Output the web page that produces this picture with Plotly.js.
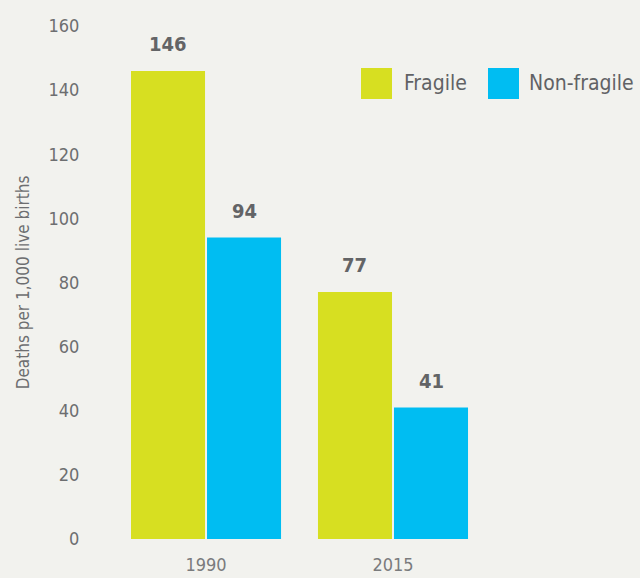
<!DOCTYPE html>
<html><head><meta charset="utf-8">
<script src="https://cdn.plot.ly/plotly-3.0.1.min.js"></script>
<style>html,body{margin:0;padding:0;background:#f2f2ee;}#chart{width:640px;height:578px;}</style>
</head><body><div id="chart"></div>
<script>
var categories = ['1990', '2015'];
var seriesNames = ['Fragile', 'Non-fragile'];
var fragile = [146, 77];
var nonFragile = [94, 41];
var yTicks = [0, 20, 40, 60, 80, 100, 120, 140, 160];

var colors = ['#d7df21', '#00bdf2'];
var FONT = '"DejaVu Sans Condensed", "Liberation Sans Narrow", sans-serif';
var series = [fragile, nonFragile];

var bargap = 0.187, bargroupgap = 0.026;
var slot = (1 - bargap) / series.length;

var traces = series.map(function (vals, i) {
  return {
    type: 'bar', x: categories.map(function (c, k) { return k; }), y: vals, name: seriesNames[i],
    marker: {color: colors[i]}, showlegend: false, hoverinfo: 'x+y'
  };
});

var annotations = [];
series.forEach(function (vals, i) {
  var off = (i - (series.length - 1) / 2) * slot;
  vals.forEach(function (v, k) {
    annotations.push({
      x: k + off, y: v, xref: 'x', yref: 'y', text: '<b>' + v + '</b>', showarrow: false,
      yanchor: 'bottom', yshift: 13, font: {family: FONT, size: 20, color: '#636466'}
    });
  });
});

// custom legend
var shapes = [];
var legX = [361, 488], legTxt = [402, 527];
seriesNames.forEach(function (n, i) {
  shapes.push({type: 'rect', xref: 'paper', yref: 'paper', x0: (legX[i] - 100) / 540, x1: (legX[i] + 31 - 100) / 540,
    y0: (539 - 99) / 513, y1: (539 - 68) / 513, fillcolor: colors[i], line: {width: 0}});
  annotations.push({xref: 'paper', yref: 'paper', x: (legTxt[i] - 100) / 540, y: (539 - 83) / 513,
    xanchor: 'left', yanchor: 'middle', text: n, showarrow: false,
    font: {family: FONT, size: 21, color: '#616265'}});
});

var layout = {
  width: 640, height: 578,
  paper_bgcolor: '#f2f2ee', plot_bgcolor: '#f2f2ee',
  margin: {l: 100, r: 0, t: 26, b: 39},
  barmode: 'group', bargap: bargap, bargroupgap: bargroupgap,
  font: {family: FONT, color: '#6d6e70'},
  xaxis: {range: [-0.567, 2.321], tickvals: [0, 1], ticktext: categories, showgrid: false, zeroline: false,
    showline: false, ticks: 'outside', ticklen: 9, tickcolor: 'rgba(0,0,0,0)',
    tickfont: {family: FONT, size: 18, color: '#7a7b7d'}},
  yaxis: {range: [0, 160], tickvals: yTicks, showgrid: false, zeroline: false, showline: false,
    ticks: 'outside', ticklen: 16, tickcolor: 'rgba(0,0,0,0)',
    tickfont: {family: FONT, size: 18, color: '#6d6e70'},
    title: {text: 'Deaths per 1,000 live births', font: {family: FONT, size: 17, color: '#6d6e70'}, standoff: 14}},
  shapes: shapes, annotations: annotations
};

Plotly.newPlot('chart', traces, layout, {displayModeBar: false, staticPlot: true});
</script></body></html>
